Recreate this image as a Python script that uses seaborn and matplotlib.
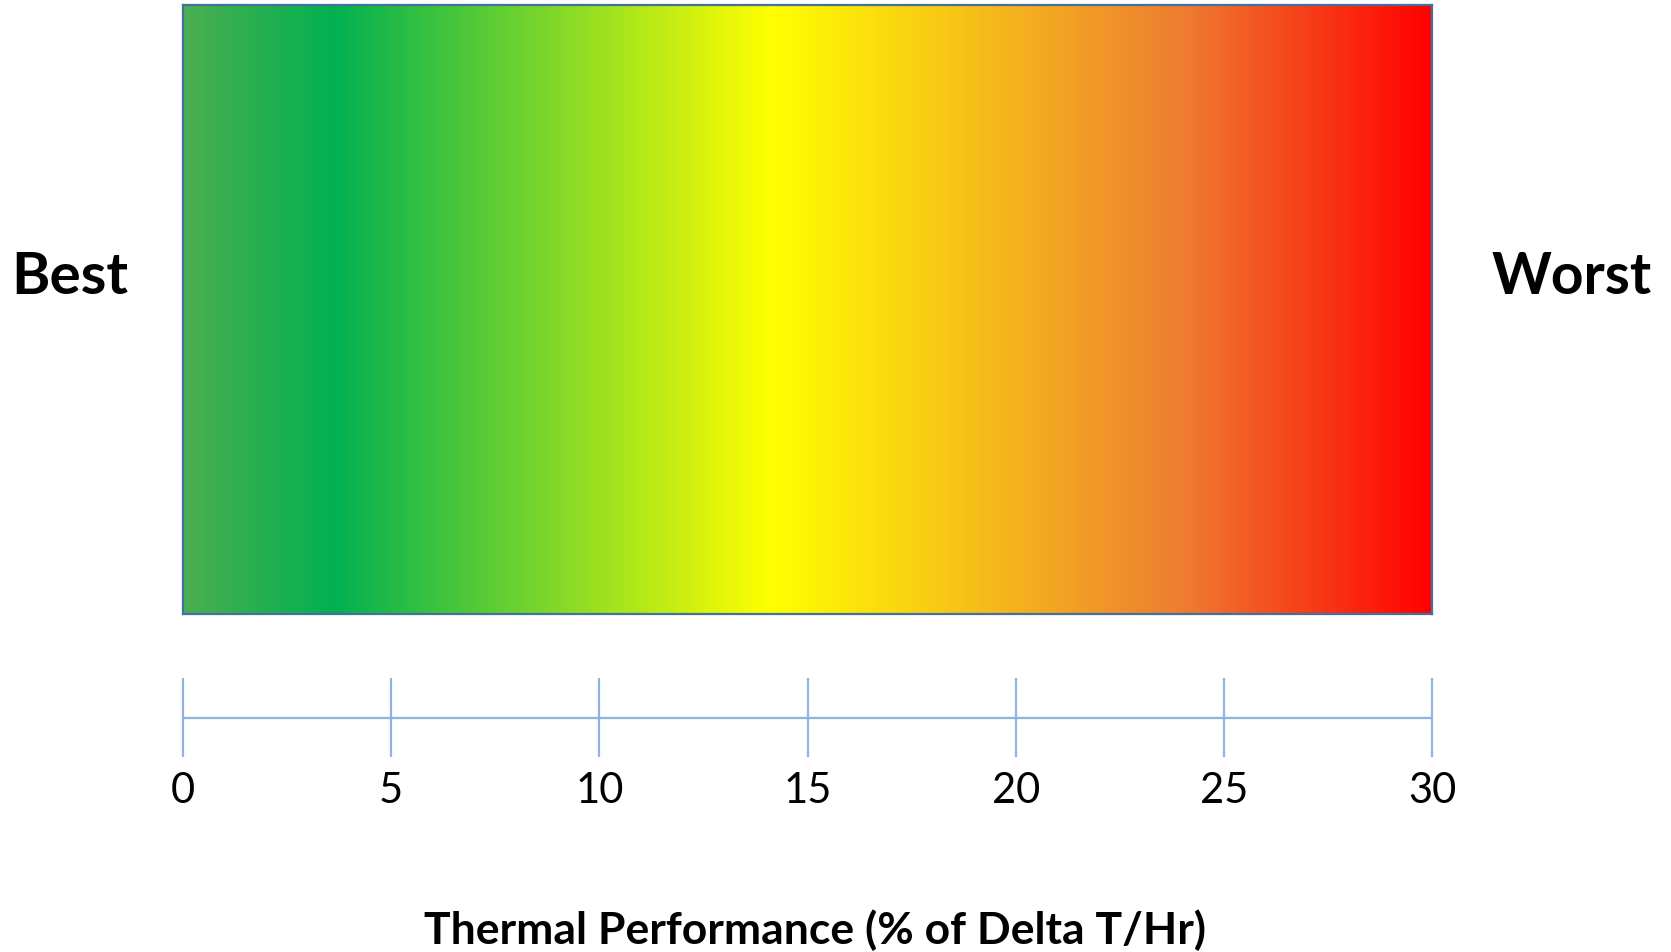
import numpy as np
import pandas as pd
import matplotlib
matplotlib.use("Agg")
import matplotlib.pyplot as plt
import seaborn as sns
from matplotlib.colors import LinearSegmentedColormap

# ---- data ----
stop_positions = [0.0, 0.12, 0.47, 0.80, 1.0]          # fraction of scale
stop_colors = ["#4BAE50", "#00B050", "#FFFF00", "#ED7D31", "#FF0000"]
scale_min, scale_max = 0, 30
tick_values = [0, 5, 10, 15, 20, 25, 30]
tick_labels = ["0", "5", "10", "15", "20", "25", "30"]
left_label = "Best"
right_label = "Worst"
axis_title = "Thermal Performance (% of Delta T/Hr)"

sns.set_theme(style="white")
plt.rcParams["font.family"] = ["Lato", "DejaVu Sans"]

W, H = 1671, 953
fig = plt.figure(figsize=(W / 100, H / 100), dpi=100)

cmap = LinearSegmentedColormap.from_list("perf", list(zip(stop_positions, stop_colors)), N=512)

# gradient bar
ax = fig.add_axes([183 / W, 1 - 615 / H, (1432 - 183) / W, (615 - 6) / H])
n_cells = 600
grad = pd.DataFrame([np.linspace(scale_min, scale_max, n_cells)])
sns.heatmap(grad, ax=ax, cmap=cmap, vmin=scale_min, vmax=scale_max, cbar=False,
            xticklabels=False, yticklabels=False)
for s in ax.spines.values():
    s.set_visible(True)
    s.set_color("#41719C")
    s.set_linewidth(1.6)

# scale axis
ax2 = fig.add_axes([183 / W, 1 - 758 / H, (1432 - 183) / W, (758 - 679) / H])
ax2.set_xlim(scale_min, scale_max)
ax2.set_ylim(-1, 1)
line_c = "#8DB4E2"
ax2.plot([tick_values[0], tick_values[-1]], [0, 0], color=line_c, lw=1.6, clip_on=False)
ax2.vlines(tick_values, -1, 1, color=line_c, lw=1.6, clip_on=False)
for s in ax2.spines.values():
    s.set_visible(False)
ax2.set_facecolor("none")
ax2.set_xticks(tick_values)
ax2.set_xticklabels(tick_labels, fontsize=30, color="black")
ax2.tick_params(axis="x", length=0, pad=10)
ax2.set_yticks([])

fig.text(70 / W, 1 - 278 / H, left_label, fontsize=42, fontweight="bold",
         ha="center", va="center", color="black")
fig.text(1572 / W, 1 - 278 / H, right_label, fontsize=41, fontweight="bold",
         ha="center", va="center", color="black")
fig.text(815 / W, 1 - 930 / H, axis_title, fontsize=32, fontweight="bold",
         ha="center", va="center", color="black")

fig.savefig("out.png", dpi=100, facecolor="white")
